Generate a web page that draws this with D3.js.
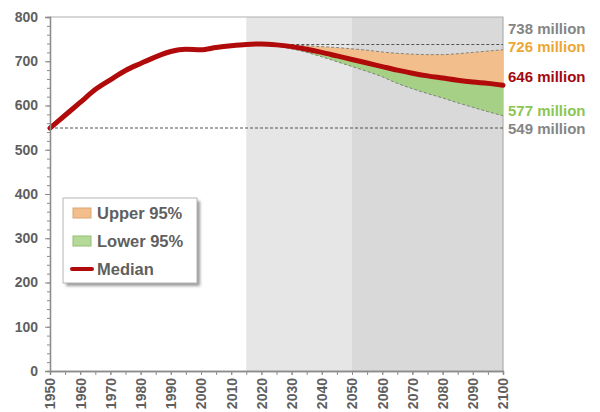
<!DOCTYPE html>
<html>
<head>
<meta charset="utf-8">
<script src="https://cdn.jsdelivr.net/npm/d3@7"></script>
<style>
  body { margin: 0; background: #fff; }
  text { font-family: "Liberation Sans", Arial, sans-serif; }
</style>
</head>
<body>
<svg id="chart" width="600" height="412"></svg>
<script>
// population data (millions)
var years = d3.range(1950, 2101, 5);
var median = [549, 578, 607, 636, 658, 679, 695, 710, 722, 727, 726, 731, 735, 738, 739, 737,
              733, 727, 720, 712, 704, 696, 688, 680, 673, 667, 662, 657, 653, 650, 646];

// projection bands start in 2015
var projYears = d3.range(2015, 2101, 5);
var upper95 = [738, 740, 739, 737, 735, 733, 731, 728, 725, 721, 718, 716, 715, 715, 717, 720, 723, 726];
var lower95 = [738, 738, 734, 728, 720, 710, 699, 688, 677, 665, 650, 638, 627, 617, 606, 596, 586, 577];

var yTicks = [0, 100, 200, 300, 400, 500, 600, 700, 800];
var refLines = [738, 549];
var endLabels = [
  {text: "738 million", color: "#858585", y: 34},
  {text: "726 million", color: "#eba735", y: 51.5},
  {text: "646 million", color: "#a3090e", y: 82},
  {text: "577 million", color: "#8cc653", y: 116},
  {text: "549 million", color: "#858585", y: 133.5}
];

var svg = d3.select("#chart");

var x = d3.scaleLinear().domain([1950, 2100]).range([50, 503]);
var y = d3.scaleLinear().domain([0, 800]).range([371, 17]);

// shaded projection periods
svg.append("rect").attr("x", x(2015)).attr("y", y(800))
  .attr("width", x(2050) - x(2015)).attr("height", y(0) - y(800)).attr("fill", "#e6e6e6");
svg.append("rect").attr("x", x(2050)).attr("y", y(800))
  .attr("width", x(2100) - x(2050)).attr("height", y(0) - y(800)).attr("fill", "#d9d9d9");

// plot frame (top & right)
svg.append("path")
  .attr("d", `M${x(1950)},${y(800)}H${x(2100)}V${y(0)}`)
  .attr("fill", "none").attr("stroke", "#b0b0b0").attr("stroke-width", 1.2);

var curve = d3.curveMonotoneX;

// median values at projection years
var medProj = projYears.map(yr => median[years.indexOf(yr)]);

var bandArea = d3.area().curve(curve)
  .x((d, i) => x(projYears[i]))
  .y0((d, i) => y(medProj[i]))
  .y1(d => y(d));

svg.append("path").datum(upper95).attr("d", bandArea).attr("fill", "#f2bf8c");
svg.append("path").datum(lower95).attr("d", bandArea).attr("fill", "#a6d086");

var bandLine = d3.line().curve(curve).x((d, i) => x(projYears[i])).y(d => y(d));
[upper95, lower95].forEach(arr => {
  svg.append("path").datum(arr).attr("d", bandLine)
    .attr("fill", "none").attr("stroke", "#6d6d6d").attr("stroke-width", 0.8)
    .attr("stroke-dasharray", "3,2");
});

// reference dashed lines
svg.append("line").attr("x1", x(2015)).attr("x2", x(2100))
  .attr("y1", y(refLines[0])).attr("y2", y(refLines[0]))
  .attr("stroke", "#555").attr("stroke-width", 1.1).attr("stroke-dasharray", "3,2");
svg.append("line").attr("x1", x(1950)).attr("x2", x(2100))
  .attr("y1", y(refLines[1])).attr("y2", y(refLines[1]))
  .attr("stroke", "#555").attr("stroke-width", 1.1).attr("stroke-dasharray", "3,2");

// median line
var medLine = d3.line().curve(curve).x((d, i) => x(years[i])).y(d => y(d));
svg.append("path").datum(median).attr("d", medLine)
  .attr("fill", "none").attr("stroke", "#b00a0a").attr("stroke-width", 5)
  .attr("stroke-linecap", "round");

// y axis
var yMinor = svg.append("g").attr("transform", `translate(${x(1950)},0)`)
  .call(d3.axisLeft(y).tickValues(d3.range(0, 801, 20)).tickSize(3).tickFormat(""));
var yAxis = svg.append("g").attr("transform", `translate(${x(1950)},0)`)
  .call(d3.axisLeft(y).tickValues(yTicks).tickSize(5).tickPadding(7));
yAxis.selectAll("text").attr("font-size", 14).attr("font-weight", "bold").attr("fill", "#5f5f5f")
  .style("font-family", "'Liberation Sans', Arial, sans-serif");

// x axis
var xMinor = svg.append("g").attr("transform", `translate(0,${y(0)})`)
  .call(d3.axisBottom(x).tickValues(years).tickSize(4).tickFormat(""));
var xAxis = svg.append("g").attr("transform", `translate(0,${y(0)})`)
  .call(d3.axisBottom(x).tickValues(d3.range(1950, 2101, 10)).tickSize(4).tickFormat(d3.format("d")));
xAxis.selectAll("text")
  .attr("transform", "rotate(-90)")
  .attr("text-anchor", "end")
  .attr("x", -7).attr("y", 0).attr("dy", "0.35em")
  .attr("font-size", 14).attr("font-weight", "bold").attr("fill", "#5f5f5f")
  .style("font-family", "'Liberation Sans', Arial, sans-serif");

[yMinor, yAxis, xMinor, xAxis].forEach(g => {
  g.select(".domain").attr("stroke", "#8c8c8c").attr("stroke-width", 1.3);
  g.selectAll(".tick line").attr("stroke", "#8c8c8c");
});

// end labels
svg.selectAll(".endlab").data(endLabels).enter().append("text")
  .attr("x", 508).attr("y", d => d.y)
  .attr("font-size", 15).attr("font-weight", "bold")
  .attr("fill", d => d.color).text(d => d.text);

// legend
var defs = svg.append("defs");
defs.append("filter").attr("id", "shadow").append("feGaussianBlur").attr("stdDeviation", 1.5);
svg.append("rect").attr("x", 66).attr("y", 201).attr("width", 134).attr("height", 85)
  .attr("fill", "#9a9a9a").attr("filter", "url(#shadow)");
svg.append("rect").attr("x", 63).attr("y", 198).attr("width", 134).attr("height", 85)
  .attr("fill", "#fff").attr("stroke", "#b5b5b5");

var legendItems = [
  {label: "Upper 95%", type: "box", color: "#f2bf8c", stroke: "#d9a577"},
  {label: "Lower 95%", type: "box", color: "#b5da98", stroke: "#93be74"},
  {label: "Median", type: "line", color: "#b00a0a"}
];
var lg = svg.selectAll(".leg").data(legendItems).enter().append("g")
  .attr("transform", (d, i) => `translate(72,${213 + i * 28})`);
lg.filter(d => d.type == "box").append("rect")
  .attr("x", 1).attr("y", -5).attr("width", 18).attr("height", 10)
  .attr("fill", d => d.color).attr("stroke", d => d.stroke);
lg.filter(d => d.type == "line").append("line")
  .attr("x1", 0).attr("x2", 20).attr("y1", 0).attr("y2", 0)
  .attr("stroke", d => d.color).attr("stroke-width", 4).attr("stroke-linecap", "round");
lg.append("text").attr("x", 25).attr("y", 6)
  .attr("font-size", 16.5).attr("font-weight", "bold").attr("fill", "#5f5f5f")
  .text(d => d.label);
</script>
</body>
</html>
